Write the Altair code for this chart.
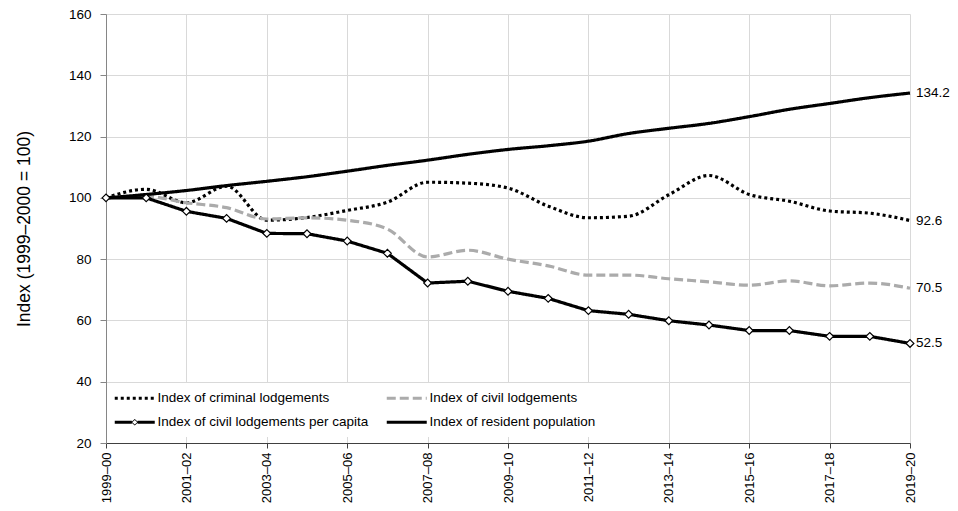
import altair as alt
import pandas as pd

years = ["1999–00", "2000–01", "2001–02", "2002–03", "2003–04", "2004–05", "2005–06",
         "2006–07", "2007–08", "2008–09", "2009–10", "2010–11", "2011–12", "2012–13",
         "2013–14", "2014–15", "2015–16", "2016–17", "2017–18", "2018–19", "2019–20"]

criminal = [100, 102.8, 98.4, 103.8, 92.7, 93.6, 95.9, 98.6, 105.1, 104.8, 103.2,
            97.3, 93.5, 94.0, 101.0, 107.3, 101.1, 98.9, 95.7, 95.0, 92.6]
civil = [100, 100.5, 98.4, 96.8, 93.1, 93.5, 92.7, 89.8, 80.7, 82.9, 80.0,
         77.8, 74.8, 74.8, 73.6, 72.6, 71.5, 72.9, 71.3, 72.2, 70.5]
per_capita = [100, 100, 95.6, 93.3, 88.4, 88.3, 85.9, 81.9, 72.2, 72.8, 69.5,
              67.2, 63.2, 62.0, 59.9, 58.5, 56.7, 56.7, 54.8, 54.8, 52.5]
population = [100, 101.1, 102.4, 104.0, 105.4, 106.9, 108.7, 110.6, 112.3, 114.2, 115.8,
              117.0, 118.5, 121.0, 122.7, 124.3, 126.5, 128.9, 130.8, 132.7, 134.2]

series_names = ["Index of criminal lodgements", "Index of civil lodgements",
                "Index of civil lodgements per capita", "Index of resident population"]
series_colors = ["#000000", "#ababab", "#000000", "#000000"]
series_dashes = [[3, 3], [9, 4], [1, 0], [1, 0]]
y_ticks = [20, 40, 60, 80, 100, 120, 140, 160]

rows = []
for name, vals in zip(series_names, [criminal, civil, per_capita, population]):
    for yr, v in zip(years, vals):
        rows.append({"year": yr, "series": name, "value": v})
df = pd.DataFrame(rows)

FONT = "Liberation Sans, Arial, sans-serif"
PC = series_names[2]
LINE_PATH = "M-2.5,0H2.5"
DIAMOND_PATH = ("M-2.5,-0.19H-0.36V0.19H-2.5Z"
                "M0.36,-0.19H2.5V0.19H0.36Z"
                "M-0.45,0L0,-0.42L0.45,0L0,0.42Z"
                "M-0.31,0L0,0.28L0.31,0L0,-0.28Z")
is_pc = f"datum.label === '{PC}'"

legend = alt.Legend(
    title=None, orient="none", legendX=14, legendY=369, columns=2, direction="horizontal",
    symbolType={"expr": f"{is_pc} ? '{DIAMOND_PATH}' : '{LINE_PATH}'"},
    symbolFillColor={"expr": f"{is_pc} ? 'black' : 'transparent'"},
    symbolStrokeWidth={"expr": f"{is_pc} ? 0 : 3"},
    symbolSize=256,
    labelFont=FONT, labelFontSize=13.5, labelColor="black", labelLimit=400,
    labelOffset=16, columnPadding=11, rowPadding=9.5, padding=8, fillColor="white",
)

x_enc = alt.X(
    "year:O", sort=years, title=None,
    scale=alt.Scale(type="point", padding=0, domain=years),
    axis=alt.Axis(values=years[::2], labelAngle=-90, labelFont=FONT, labelFontSize=13,
                  labelColor="black", labelPadding=4, tickSize=5, tickColor="#404040",
                  domainColor="#404040", grid=True, gridColor="#d9d9d9"),
)
y_enc = alt.Y(
    "value:Q", title="Index (1999–2000 = 100)",
    scale=alt.Scale(domain=[20, 160], nice=False, zero=False),
    axis=alt.Axis(values=y_ticks, labelFont=FONT, labelFontSize=13.5, labelColor="black",
                  labelPadding=9, tickSize=6, tickColor="#868686", domainColor="#868686",
                  grid=True, gridColor="#d9d9d9", titleFont=FONT, titleFontSize=17.5,
                  titleFontWeight="normal", titleColor="black", titlePadding=35),
)
color_enc = alt.Color("series:N", scale=alt.Scale(domain=series_names, range=series_colors),
                      legend=legend)
dash_enc = alt.StrokeDash("series:N", scale=alt.Scale(domain=series_names, range=series_dashes),
                          legend=legend)

base = alt.Chart(df)

smooth = base.transform_filter(alt.datum.series != PC).mark_line(
    interpolate="monotone", strokeWidth=3.2
).encode(x=x_enc, y=y_enc, color=color_enc, strokeDash=dash_enc)

pc_line = base.transform_filter(alt.datum.series == PC).mark_line(
    strokeWidth=3.2
).encode(x=x_enc, y=y_enc, color=color_enc, strokeDash=dash_enc)

pc_points = base.transform_filter(alt.datum.series == PC).mark_point(
    shape="diamond", filled=True, fill="white", stroke="black", strokeWidth=1.2,
    size=60, opacity=1
).encode(x=x_enc, y=y_enc)

end_labels = base.transform_filter(alt.datum.year == years[-1]).mark_text(
    align="left", baseline="middle", dx=6, font=FONT, fontSize=13.5, color="black"
).encode(x=x_enc, y=y_enc, text=alt.Text("value:Q", format=".1f"))

chart = alt.layer(smooth, pc_line, pc_points, end_labels).properties(
    width=804, height=429,
    autosize=alt.AutoSizeParams(type="none"),
    padding={"left": 98, "top": 6, "right": 40, "bottom": 60},
).configure_view(stroke=None)

chart.save("out.html", embed_options={"renderer": "svg", "actions": False})
